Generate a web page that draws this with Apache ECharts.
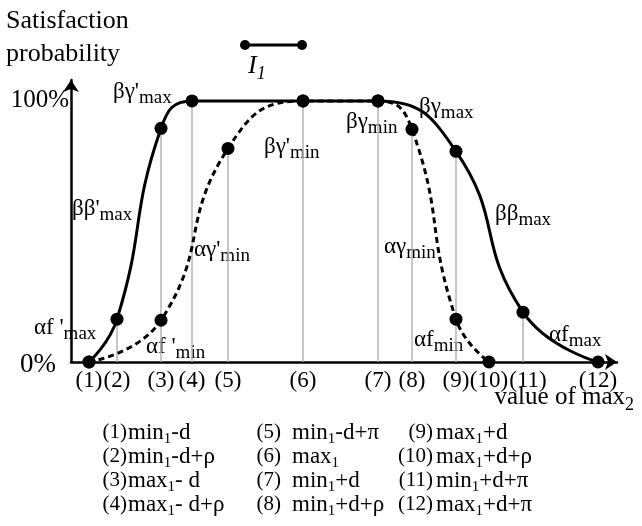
<!DOCTYPE html>
<html>
<head>
<meta charset="utf-8">
<script src="https://cdn.jsdelivr.net/npm/echarts@6/dist/echarts.min.js"></script>
<style>
  html, body { margin: 0; padding: 0; background: #fff; }
  #chart { width: 642px; height: 526px; }
</style>
</head>
<body>
<div id="chart"></div>
<script>
// x positions of the twelve marked values of max2 (axis units)
const tickX = [18, 46, 90, 121, 157, 232, 307, 341, 385, 418, 452, 527]
const tickLabels = ["(1)", "(2)", "(3)", "(4)", "(5)", "(6)", "(7)", "(8)", "(9)", "(10)", "(11)", "(12)"]

// solid curve (max bounds): which ticks it passes, satisfaction %
const solidIdx = [0, 1, 2, 3, 5, 6, 8, 10, 11]
const solidVal = [0, 16.4, 89.5, 100, 100, 100, 80.7, 19.1, 0]

// dashed curve (min bounds)
const dashedIdx = [0, 2, 4, 5, 6, 7, 8, 9]
const dashedVal = [0, 16, 81.8, 100, 100, 89.1, 16.4, 0]

// grey drop lines
const guideIdx = [1, 2, 3, 4, 5, 6, 7, 8, 10]
const guideVal = [16.4, 89.5, 100, 81.8, 100, 100, 89.1, 80.7, 19.1]

// legend of the tick numbers, "_1" marks a subscript 1
const tickDefs = [
  "min_1-d", "min_1-d+ρ", "max_1- d", "max_1- d+ρ",
  "min_1-d+π", "max_1", "min_1+d", "min_1+d+ρ",
  "max_1+d", "max_1+d+ρ", "min_1+d+π", "max_1+d+π",
]

const serif = "'Liberation Serif', serif"

const chart = echarts.init(document.getElementById("chart"))

const pair = (idx, vals) => idx.map((k, i) => [tickX[k], vals[i]])

// annotation texts: main part + subscript
const notes = [
  ["βγ'", "max", 113, 95],
  ["βγ'", "min", 264, 150],
  ["ββ'", "max", 72, 212],
  ["αγ'", "min", 194, 253],
  ["βγ", "max", 419, 110],
  ["βγ", "min", 346, 125],
  ["ββ", "max", 495, 217],
  ["αγ", "min", 384, 250],
  ["αf '", "max", 34, 331],
  ["αf '", "min", 146, 350],
  ["αf", "min", 414, 343],
  ["αf", "max", 549, 338],
]

const noteRich = {
  m: { fontFamily: serif, fontSize: 23, color: "#000", verticalAlign: "bottom", padding: [0, 0, 5, 0] },
  s: { fontFamily: serif, fontSize: 19, color: "#000", verticalAlign: "bottom" },
}

const graphics = []

notes.forEach(([main, sub, x, y]) => {
  graphics.push({
    type: "text",
    left: x,
    top: y - 15,
    style: { text: `{m|${main}}{s|${sub}}`, rich: noteRich },
  })
})

// y axis title
graphics.push({
  type: "text",
  left: 6,
  top: 8,
  style: {
    text: "{t|Satisfaction}\n{t|probability}",
    rich: { t: { fontFamily: serif, fontSize: 26, lineHeight: 33, color: "#000" } },
  },
})

// x axis title
graphics.push({
  type: "text",
  right: 8,
  top: 385,
  style: {
    text: "{m|value of max}{s|2}",
    rich: {
      m: { fontFamily: serif, fontSize: 25, color: "#000", verticalAlign: "bottom", padding: [0, 0, 4, 0] },
      s: { fontFamily: serif, fontSize: 18, color: "#000", verticalAlign: "bottom" },
    },
  },
})

// I1 marker
graphics.push(
  { type: "line", shape: { x1: 245, y1: 45, x2: 302, y2: 45 }, style: { stroke: "#000", lineWidth: 3 } },
  { type: "circle", shape: { cx: 245, cy: 45, r: 5 }, style: { fill: "#000" } },
  { type: "circle", shape: { cx: 302, cy: 45, r: 5 }, style: { fill: "#000" } },
  {
    type: "text",
    left: 248,
    top: 53,
    style: {
      text: "{m|I}{s|1}",
      rich: {
        m: { fontFamily: serif, fontStyle: "italic", fontSize: 26, color: "#000", verticalAlign: "bottom", padding: [0, 0, 4, 0] },
        s: { fontFamily: serif, fontStyle: "italic", fontSize: 18, color: "#000", verticalAlign: "bottom" },
      },
    },
  }
)

// tick definitions, three columns of four
const colNumRight = [127, 281, 433]
const colTextLeft = [128, 292, 436]
const rowY = [434, 458, 482, 506]
const defRich = {
  n: { fontFamily: serif, fontSize: 21, color: "#000", verticalAlign: "bottom", padding: [0, 0, 3, 0] },
  t: { fontFamily: serif, fontSize: 23, color: "#000", verticalAlign: "bottom", padding: [0, 0, 3, 0] },
  s: { fontFamily: serif, fontSize: 15, color: "#000", verticalAlign: "bottom" },
}
tickDefs.forEach((def, i) => {
  const col = Math.floor(i / 4)
  const row = i % 4
  graphics.push({
    type: "text",
    x: colNumRight[col],
    y: rowY[row],
    style: {
      text: "{n|" + tickLabels[i] + "}",
      rich: defRich,
      align: "right",
      verticalAlign: "middle",
    },
  })
  graphics.push({
    type: "text",
    x: colTextLeft[col],
    y: rowY[row],
    style: {
      text: "{t|" + def.replace("_1", "}{s|1}{t|") + "}",
      rich: defRich,
      align: "left",
      verticalAlign: "middle",
    },
  })
})

const axisLine = {
  show: true,
  onZero: false,
  symbol: ["none", "arrow"],
  symbolSize: [12, 12],
  lineStyle: { color: "#000", width: 2.5 },
}

const option = {
  backgroundColor: "#fff",
  animation: false,
  grid: { left: 71, right: 25, top: 80, bottom: 164, outerBoundsMode: "none" },
  xAxis: {
    type: "value",
    min: 0,
    max: 546,
    axisLine: axisLine,
    axisTick: { show: false },
    splitLine: { show: false },
    axisLabel: {
      customValues: tickX,
      // (11) sits a little right of its tick so it clears (10)
      formatter: (v) => {
        const i = tickX.indexOf(v)
        return i === 10 ? "{r|" + tickLabels[i] + "}" : "{c|" + tickLabels[i] + "}"
      },
      rich: {
        c: { fontFamily: serif, fontSize: 23, color: "#000" },
        r: { fontFamily: serif, fontSize: 23, color: "#000", padding: [0, 0, 0, 10] },
      },
      margin: 7,
    },
  },
  yAxis: {
    type: "value",
    min: 0,
    max: 108,
    axisLine: axisLine,
    axisTick: { show: false },
    splitLine: { show: false },
    axisLabel: {
      customValues: [0, 100],
      formatter: (v) => (v === 0 ? "{z|0%}" : "{h|100%}"),
      rich: {
        z: { fontFamily: serif, fontSize: 27, color: "#000", padding: [6, 13, 0, 0] },
        h: { fontFamily: serif, fontSize: 25, color: "#000" },
      },
      margin: 2,
    },
  },
  series: [
    {
      type: "bar",
      data: pair(guideIdx, guideVal),
      barWidth: 1.5,
      itemStyle: { color: "#b4b4b4" },
      silent: true,
      z: 1,
    },
    {
      type: "line",
      data: pair(dashedIdx, dashedVal),
      smooth: 0.5,
      symbol: "circle",
      symbolSize: 13,
      itemStyle: { color: "#000" },
      lineStyle: { color: "#000", width: 3, type: [6, 4] },
      z: 3,
    },
    {
      type: "line",
      data: pair(solidIdx, solidVal),
      smooth: 0.5,
      symbol: "circle",
      symbolSize: 13,
      itemStyle: { color: "#000" },
      lineStyle: { color: "#000", width: 3 },
      z: 4,
    },
  ],
  graphic: graphics,
}

chart.setOption(option)
</script>
</body>
</html>
